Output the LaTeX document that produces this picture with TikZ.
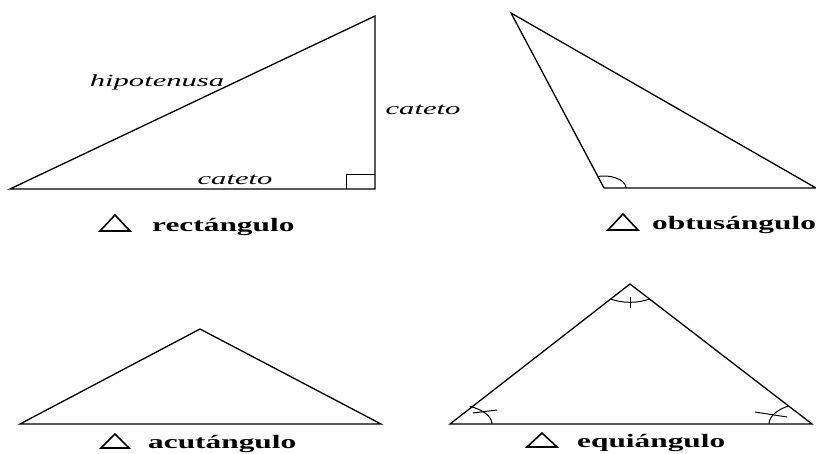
\documentclass[tikz,border=0pt]{standalone}
\usepackage{fontspec}
\setmainfont{Liberation Serif}
\begin{document}
\begin{tikzpicture}[x=1pt,y=1pt,
  edge/.style={line width=1.3pt,line join=miter},
  angmark/.style={line width=1pt},
  sidelbl/.style={anchor=base,inner sep=0pt,font=\fontsize{17}{17}\selectfont\itshape},
  typelbl/.style={anchor=base west,inner sep=0pt,font=\fontsize{19}{19}\selectfont\bfseries},
  symtri/.style={line width=1.6pt,line join=miter}]
\useasboundingbox (0,0) rectangle (816,453);
% rectangulo
\coordinate (A) at (10,264); \coordinate (B) at (375,264); \coordinate (C) at (375,437);
\draw[edge] (A) -- (B) -- (C) -- cycle;
\draw[angmark] (346,264) -- (346,278) -- (375,278);
\node[sidelbl] (hip) at (157,366) {\scalebox{1.8}[1]{hipotenusa}};
\node[sidelbl] (c1) at (423,338) {\scalebox{1.8}[1]{cateto}};
\node[sidelbl] (c2) at (235,268) {\scalebox{1.8}[1]{cateto}};
\draw[symtri] (100,222) -- (130,222) -- (115,238) -- cycle;
\node[typelbl] (n1) at (152,222) {\scalebox{1.65}[1]{rectángulo}};
% obtusangulo
\coordinate (P) at (511,440); \coordinate (Q) at (604,265); \coordinate (R) at (816,265);
\draw[edge] (P) -- (Q) -- (R) -- cycle;
\draw[angmark] ([shift={(22,0)}]Q) arc[start angle=0,end angle=105,x radius=22,y radius=12];
\draw[symtri] (608,223) -- (638,223) -- (623,239) -- cycle;
\node[typelbl] (n2) at (652,223) {\scalebox{1.65}[1]{obtusángulo}};
% acutangulo
\coordinate (D) at (20,29); \coordinate (E) at (200,124); \coordinate (F) at (381,29);
\draw[edge] (D) -- (E) -- (F) -- cycle;
\draw[symtri] (101,5) -- (129,5) -- (115,19) -- cycle;
\node[typelbl] (n3) at (148,5) {\scalebox{1.65}[1]{acutángulo}};
% equiangulo
\coordinate (L) at (450,29); \coordinate (T) at (630,169); \coordinate (S) at (812,29);
\draw[edge] (L) -- (T) -- (S) -- cycle;
\draw[angmark] ([shift={(42,0)}]L) arc[start angle=0,end angle=62,x radius=42,y radius=20];
\draw[angmark] ([shift={(23,11)}]L) -- ([shift={(47,14)}]L);
\draw[angmark] ([shift={(-43,0)}]S) arc[start angle=180,end angle=123,x radius=43,y radius=21.5];
\draw[angmark] ([shift={(-57,12)}]S) -- ([shift={(-25,7)}]S);
\draw[angmark] ([shift={(-19.5,-15)}]T) arc[start angle=235,end angle=305,x radius=34,y radius=18.3];
\draw[angmark] ([shift={(0,-13)}]T) -- ([shift={(0,-24)}]T);
\draw[symtri] (527,6) -- (557,6) -- (542,20) -- cycle;
\node[typelbl] (n4) at (577,6) {\scalebox{1.65}[1]{equiángulo}};
\end{tikzpicture}
\end{document}
